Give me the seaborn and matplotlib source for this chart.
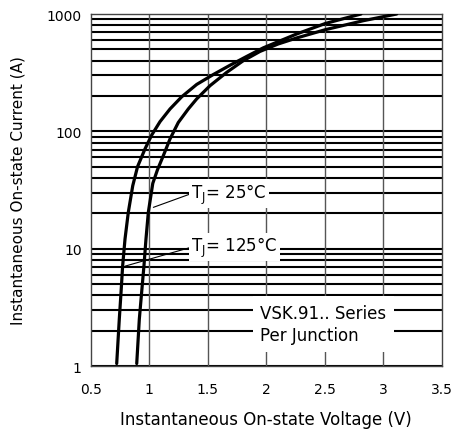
import pandas as pd
import matplotlib.pyplot as plt
import seaborn as sns

# Forward characteristic
v_125 = [0.722, 0.744, 0.759, 0.773, 0.793, 0.821, 0.859, 0.90, 0.964, 1.021, 1.092,
         1.177, 1.277, 1.405, 1.547, 1.69, 1.832, 1.974, 2.259, 2.503, 2.808]
i_125 = [1.05, 2.5, 4.25, 7.2, 12.1, 20.4, 34.4, 50, 71, 93, 121,
         155, 197, 251, 305, 366, 435, 515, 676, 830, 1000]
v_25 = [0.893, 0.915, 0.935, 0.955, 0.972, 0.992, 1.03, 1.07, 1.12, 1.177, 1.248,
        1.333, 1.405, 1.519, 1.661, 1.803, 1.946, 2.1, 2.259, 2.503, 2.828, 3.113]
i_25 = [1.05, 2.5, 4.25, 7.2, 12.1, 20.4, 36, 47, 62, 86, 119,
        155, 189, 245, 318, 400, 480, 555, 625, 735, 877, 1000]

x_ticks = [0.5, 1, 1.5, 2, 2.5, 3, 3.5]
x_tick_labels = ["0.5", "1", "1.5", "2", "2.5", "3", "3.5"]
y_ticks = [1, 10, 100, 1000]
y_tick_labels = ["1", "10", "100", "1000"]

df = pd.concat([
    pd.DataFrame({"V": v_125, "I": i_125, "Tj": "125"}),
    pd.DataFrame({"V": v_25, "I": i_25, "Tj": "25"}),
])

sns.set_style("white")
plt.rcParams["font.family"] = ["DejaVu Sans"]
plt.rcParams["text.color"] = "black"
plt.rcParams["axes.labelcolor"] = "black"
plt.rcParams["xtick.color"] = "black"
plt.rcParams["ytick.color"] = "black"

fig = plt.figure(figsize=(4.54, 4.35), dpi=100)
ax = fig.add_axes([0.1998, 0.1563, 0.7738, 0.8092])

ax.set_yscale("log")
ax.set_xlim(0.5, 3.5)
ax.set_ylim(1, 1000)

# grid: thick black horizontals, thin grey verticals
for d in [1, 10, 100]:
    for m in range(1, 10):
        ax.axhline(d * m, color="black", lw=1.5, zorder=1)
for x in x_ticks[1:-1]:
    ax.axvline(x, color="#555555", lw=1.0, zorder=1)

sns.lineplot(data=df, x="V", y="I", hue="Tj", palette=["black", "black"],
             lw=2.3, legend=False, sort=False, estimator=None, ax=ax, zorder=3)

ax.set_xticks(x_ticks)
ax.set_xticklabels(x_tick_labels)
ax.set_yticks(y_ticks)
ax.set_yticklabels(y_tick_labels)
ax.minorticks_off()
ax.tick_params(length=0, labelsize=10, labelcolor="black")
ax.tick_params(axis="x", pad=11.5)
ax.tick_params(axis="y", pad=6.5)

for s in ax.spines.values():
    s.set_color("#444444")
    s.set_linewidth(1.0)

ax.set_xlabel("Instantaneous On-state Voltage (V)", fontsize=12, color="black")
ax.set_ylabel("Instantaneous On-state Current (A)", fontsize=11, color="black")
ax.xaxis.set_label_coords(0.5, -0.125)
ax.yaxis.set_label_coords(-0.185, 0.5)

box = dict(facecolor="white", edgecolor="none", pad=1.5)
lead = dict(arrowstyle="-", color="black", lw=0.8, shrinkA=0, shrinkB=0, relpos=(0, 0.5))
ax.annotate("T$_\\mathregular{J}$= 25°C", xy=(1.035, 22.5), xytext=(1.36, 29.5),
            fontsize=12, va="center", ha="left", bbox=box, zorder=4, arrowprops=lead)
ax.annotate("T$_\\mathregular{J}$= 125°C", xy=(0.794, 7.1), xytext=(1.36, 10.3),
            fontsize=12, va="center", ha="left", bbox=box, zorder=4, arrowprops=lead)

ax.text(1.946, 2.28, "VSK.91.. Series\nPer Junction", fontsize=12, ha="left", va="center",
        linespacing=1.3, zorder=4,
        bbox=dict(facecolor="white", edgecolor="none", boxstyle="square,pad=0.45"))

plt.savefig("out.png", dpi=100)
plt.close()
